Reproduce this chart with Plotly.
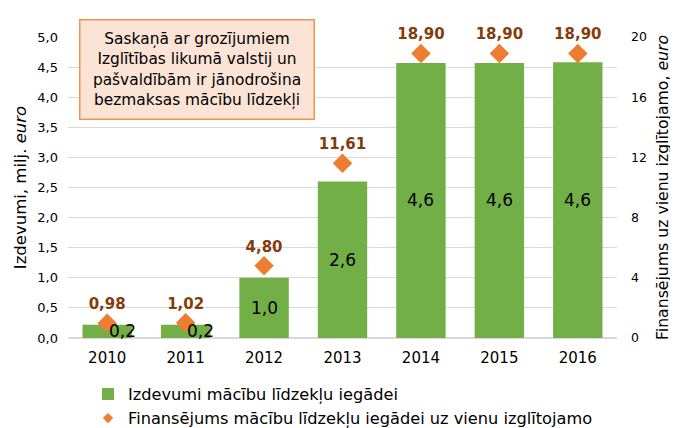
import plotly.graph_objects as go

years = ["2010", "2011", "2012", "2013", "2014", "2015", "2016"]
spend = [0.22, 0.22, 1.0, 2.6, 4.57, 4.57, 4.58]
spend_labels = ["0,2", "0,2", "1,0", "2,6", "4,6", "4,6", "4,6"]
per_pupil = [0.98, 1.02, 4.80, 11.61, 18.90, 18.90, 18.90]

FONT = "DejaVu Sans"
# page body has an 8px margin, so the figure is drawn 8px right/down
W, H = 670, 420
PL, PR, PT, PB = 60, 609, 29, 330  # plot area in figure coords
fig = go.Figure()
fig.add_trace(go.Bar(
    x=years, y=spend, name="Izdevumi mācību līdzekļu iegādei",
    marker=dict(color="#72af46", line=dict(width=0)), width=0.63,
    hoverinfo="skip",
))
fig.add_trace(go.Scatter(
    x=years, y=per_pupil, yaxis="y2", mode="markers+text",
    name="Finansējums mācību līdzekļu iegādei uz vienu izglītojamo",
    marker=dict(symbol="diamond", size=15, color="#ed7d31"),
    texttemplate="%{y:.2f}", textposition="top center",
    textfont=dict(family=FONT, size=15, color="#843c0c", weight="bold"),
    cliponaxis=False, showlegend=False,
))
# legend entry for the diamond series (smaller symbol, as in the reference legend)
fig.add_trace(go.Scatter(
    x=[None], y=[None], yaxis="y2", mode="markers",
    name="Finansējums mācību līdzekļu iegādei uz vienu izglītojamo",
    marker=dict(symbol="diamond", size=8, color="#ed7d31"),
))

for i, (v, lab) in enumerate(zip(spend, spend_labels)):
    small = v < 0.5
    fig.add_annotation(
        x=i, y=v / 2, text=lab, showarrow=False, xref="x", yref="y",
        xshift=15 if small else 0,
        font=dict(family=FONT, size=17, color="#000000"),
    )

pw, ph = PR - PL, PB - PT
fig.add_annotation(
    xref="paper", yref="paper", x=(188.5 - PL) / pw, y=(PB - 61) / ph,
    xanchor="center", yanchor="middle",
    text="Saskaņā ar grozījumiem<br>Izglītības likumā valstij un<br>pašvaldībām ir jānodrošina<br>bezmaksas mācību līdzekļi",
    showarrow=False, align="center",
    font=dict(family=FONT, size=15.4, color="#000000"),
    bgcolor="#fbe3d5", bordercolor="#f0944f", borderwidth=1.5, borderpad=2,
    width=229, height=94,
)

fig.update_layout(
    width=W, height=H,
    margin=dict(l=PL, r=W - PR, t=PT, b=H - PB, autoexpand=False),
    paper_bgcolor="white", plot_bgcolor="white",
    separators=", ",
    font=dict(family=FONT, size=13, color="#000000"),
    showlegend=True,
    legend=dict(
        orientation="v", x=(80 - PL) / pw, xanchor="left",
        y=(PB - 369) / ph, yanchor="top", font=dict(family=FONT, size=16.2),
        bgcolor="rgba(0,0,0,0)",
    ),
    xaxis=dict(
        type="category", range=[-0.5, 6.5], showgrid=False,
        showline=False, ticks="", tickfont=dict(size=15), automargin=False,
        ticklabelstandoff=9,
    ),
    yaxis=dict(
        range=[0, 5], dtick=0.5, tickformat=".1f", showgrid=True,
        gridcolor="#d9d9d9", gridwidth=1, zeroline=True,
        zerolinecolor="#d9d9d9", ticks="", tickfont=dict(size=13),
        automargin=False, ticklabelstandoff=9,
        title=dict(text="Izdevumi, milj. <i>euro</i>", font=dict(size=16.5), standoff=6),
    ),
    yaxis2=dict(
        overlaying="y", side="right", range=[0, 20], dtick=4,
        showgrid=False, zeroline=False, ticks="", tickfont=dict(size=12.5),
        automargin=False, ticklabelstandoff=13,
        title=dict(text="Finansējums uz vienu izglītojamo, <i>euro</i>", font=dict(size=15.7), standoff=11),
    ),
)

fig.write_html("out.html")
